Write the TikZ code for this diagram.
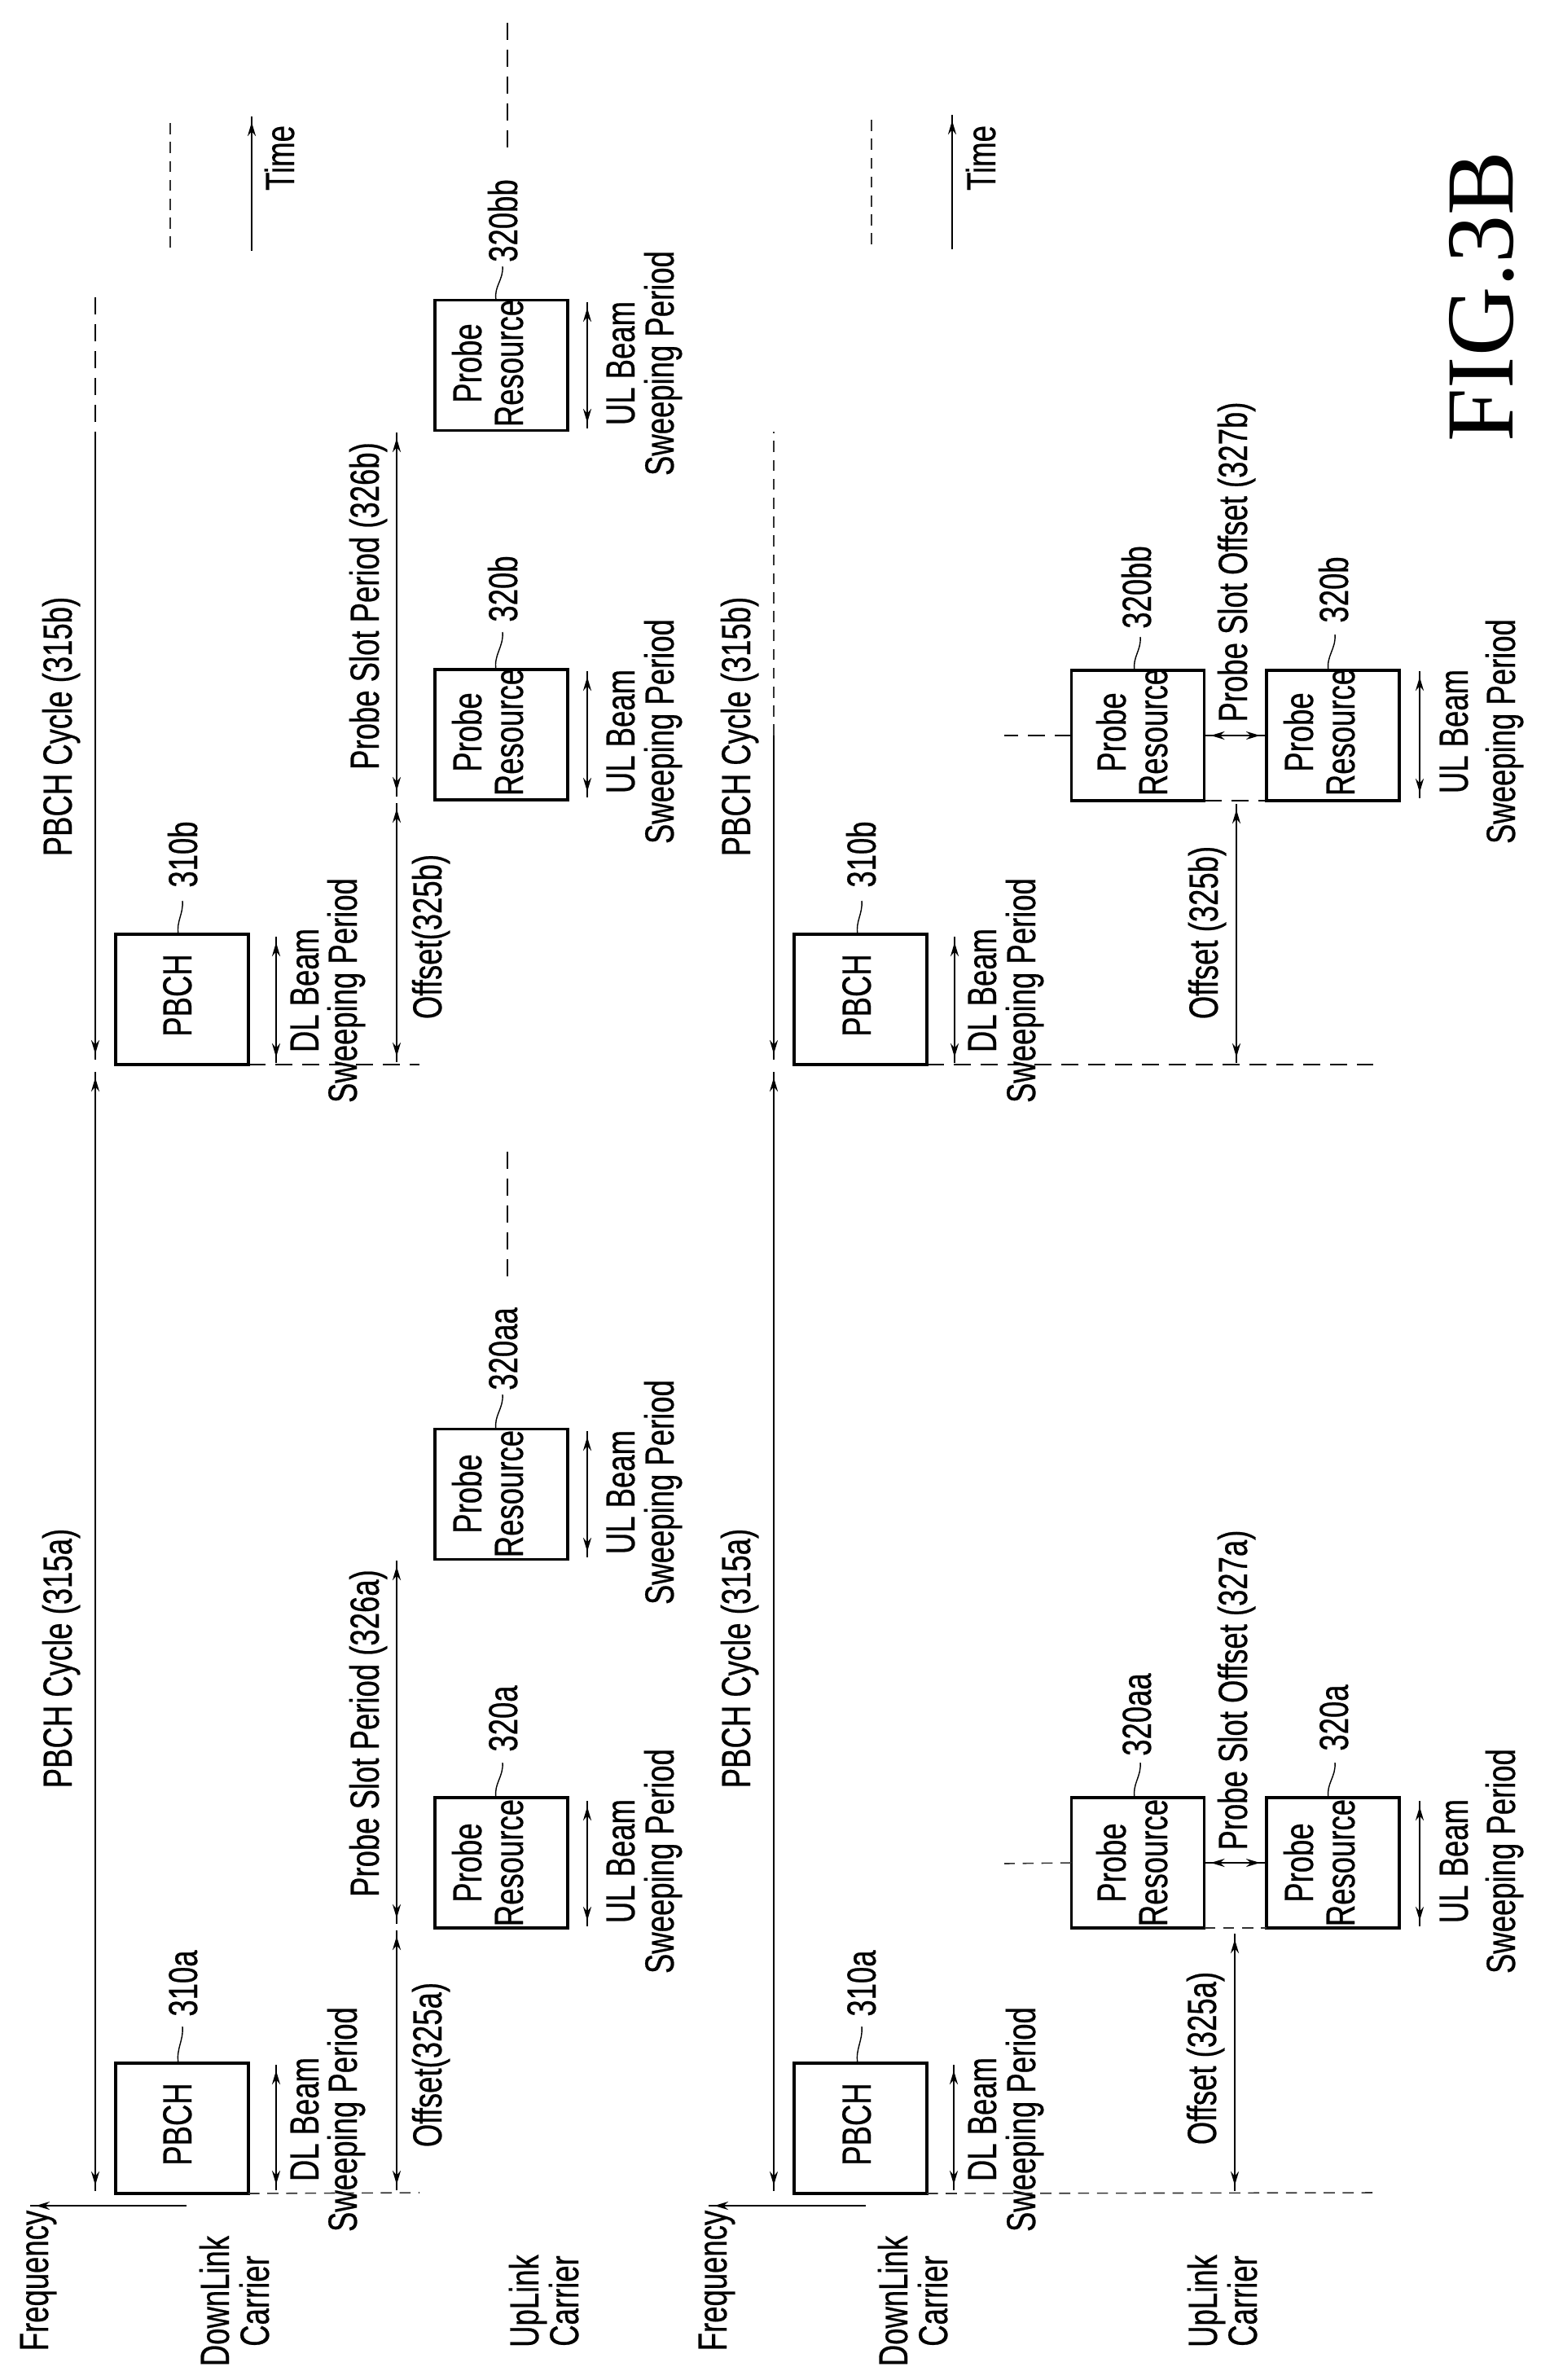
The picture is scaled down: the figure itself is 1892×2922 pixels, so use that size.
\documentclass[tikz,border=0pt]{standalone}
\usepackage{fontspec}
\setmainfont[FakeStretch=0.73,FakeBold=0.5]{Liberation Sans}
\newfontfamily\figfont{Liberation Serif}
\usetikzlibrary{arrows.meta,calc}
\tikzset{
  txt/.style={rotate=90,anchor=base,inner sep=0pt,outer sep=0pt,align=center,font=\fontsize{12.5}{#1}\selectfont},
  txt/.default=12,
  bx/.style={draw,line width=0.85pt,inner sep=0pt,outer sep=0pt,minimum width=40.75pt,minimum height=40pt},
  tip/.style={line width=0.6pt,-{Stealth[length=4.25pt,width=2.5pt]Rectangle[length=2pt,width=0.6pt]}},
  both/.style={line width=0.6pt,{Rectangle[length=2pt,width=0.6pt]Stealth[length=4.25pt,width=2.5pt]}-{Stealth[length=4.25pt,width=2.5pt]Rectangle[length=2pt,width=0.6pt]}},
  dotd/.style={line width=0.4pt,black!80,dash pattern=on 3.4pt off 2.4pt},
  longd/.style={line width=0.65pt,dash pattern=on 5.25pt off 3pt},
  lead/.style={line width=0.35pt}
}
% dimension line between two named free ends
\newcommand{\seg}[6]{\coordinate (#1-s) at (#3,#4);\coordinate (#1-e) at (#5,#6);\draw[#2] (#1-s) -- (#1-e);}
% leader from a point on a box top to the foot of its reference number
\newcommand{\ldr}[5]{\coordinate (#1-s) at (#2,#3);\coordinate (#1-e) at (#4,#5);\draw[lead] (#1-s) to[out=100,in=-85] (#1-e);}
\newcommand{\pb}[3]{\node[bx] (#1) at (#2,#3) {};}
\begin{document}
\begin{tikzpicture}[x=0.25pt,y=-0.25pt]
\useasboundingbox (0,0) rectangle (1892,2922);
%%% ---------- boxes, upper panel (left column)
\pb{ab}{223.5}{2613}\pb{bb}{223.5}{1227}
\pb{pa}{615.5}{2287}\pb{paa}{615.5}{1834.5}\pb{pb}{615.5}{902}\pb{pbb}{615.5}{448.5}
%%% ---------- boxes, lower panel (right column)
\pb{cb}{1056.5}{2613}\pb{db}{1056.5}{1227}
\pb{qaa}{1397}{2287}\pb{qa}{1636.5}{2287}
\pb{qbb}{1397}{903}\pb{qb}{1636.5}{903}
%%% ---------- box texts
\node[txt] (tpa) at (235,2608) {PBCH};
\node[txt] (tpb) at (235,1222) {PBCH};
\node[txt] (tqa) at (1069,2608) {PBCH};
\node[txt] (tqb) at (1069,1222) {PBCH};
\node[txt=12.75] (r1) at (642,2287) {Probe\\Resource};
\node[txt=12.75] (r2) at (642,1834) {Probe\\Resource};
\node[txt=12.75] (r3) at (642,899) {Probe\\Resource};
\node[txt=12.75] (r4) at (642,446) {Probe\\Resource};
\node[txt=12.75] (r5) at (1433,2287) {Probe\\Resource};
\node[txt=12.75] (r6) at (1663,2287) {Probe\\Resource};
\node[txt=12.75] (r7) at (1433,899) {Probe\\Resource};
\node[txt=12.75] (r8) at (1663,899) {Probe\\Resource};
%%% ---------- labels
\node[txt] (f1) at (59,2800) {Frequency};
\node[txt] (f2) at (892,2800) {Frequency};
\node[txt=12.25] (dl1) at (330,2825) {DownLink\\Carrier};
\node[txt=12.25] (ul1) at (710,2825) {UpLink\\Carrier};
\node[txt=12.25] (dl2) at (1163,2825) {DownLink\\Carrier};
\node[txt=12.25] (ul2) at (1543,2825) {UpLink\\Carrier};
\node[txt] (t1) at (361,194) {Time};
\node[txt] (t2) at (1222,194) {Time};
\node[txt] (n1) at (242,2435) {310a};
\node[txt] (n2) at (242,1049) {310b};
\node[txt] (n3) at (1075,2435) {310a};
\node[txt] (n4) at (1075,1049) {310b};
\node[txt=11.75] (d1) at (438,2602) {DL Beam\\Sweeping Period};
\node[txt=11.75] (d2) at (438,1216) {DL Beam\\Sweeping Period};
\node[txt] (d3) at (1271,2602) {DL Beam\\Sweeping Period};
\node[txt] (d4) at (1271,1216) {DL Beam\\Sweeping Period};
\node[txt] (o1) at (542,2535) {Offset(325a)};
\node[txt] (o2) at (542,1150) {Offset(325b)};
\node[txt] (o3) at (1493,2527) {Offset (325a)};
\node[txt] (o4) at (1495,1145) {Offset (325b)};
\node[txt] (s1) at (465,2128) {Probe Slot Period (326a)};
\node[txt] (s2) at (465,744) {Probe Slot Period (326b)};
\node[txt] (c1) at (88,2036) {PBCH Cycle (315a)};
\node[txt] (c2) at (88,892) {PBCH Cycle (315b)};
\node[txt] (c3) at (921,2036) {PBCH Cycle (315a)};
\node[txt] (c4) at (921,892) {PBCH Cycle (315b)};
\node[txt] (m1) at (635,2110) {320a};
\node[txt] (m2) at (635,1656) {320aa};
\node[txt] (m3) at (635,723) {320b};
\node[txt] (m4) at (635,271) {320bb};
\node[txt] (m5) at (1413,2105) {320aa};
\node[txt] (m6) at (1655,2109) {320a};
\node[txt] (m7) at (1413,721) {320bb};
\node[txt] (m8) at (1655,724) {320b};
\node[txt] (u1) at (827,2285) {UL Beam\\Sweeping Period};
\node[txt] (u2) at (827,1832) {UL Beam\\Sweeping Period};
\node[txt] (u3) at (827,898) {UL Beam\\Sweeping Period};
\node[txt] (u4) at (827,446) {UL Beam\\Sweeping Period};
\node[txt=14.5] (u5) at (1860,2285) {UL Beam\\Sweeping Period};
\node[txt=14.5] (u6) at (1860,898) {UL Beam\\Sweeping Period};
\node[txt] (so1) at (1531,2075) {Probe Slot Offset (327a)};
\node[txt] (so2) at (1531,690) {Probe Slot Offset (327b)};
\node[rotate=90,inner sep=0pt,font=\figfont\fontsize{29.5}{30}\selectfont] (fig) at (1819,364) {FIG.3B};
%%% ---------- axes
\seg{fa1}{tip}{229}{2708}{36}{2708}
\seg{fa2}{tip}{1063}{2708}{869}{2708}
\seg{ta1}{tip}{309}{308}{309}{142}
\seg{ta2}{tip}{1169}{306}{1169}{140}
\seg{dt1}{dotd}{209}{304}{209}{145}
\seg{dt2}{dotd}{1070}{300}{1070}{145}
%%% ---------- cycles
\seg{cy1}{both}{117}{1315}{117}{2691}
\seg{cy2}{tip}{117}{530}{117}{1302}
\seg{cy3}{longd}{117}{518}{117}{355}
\seg{cy4}{both}{950}{1315}{950}{2691}
\seg{cy5}{tip}{950}{903}{950}{1302}
\seg{cy6}{dotd}{950}{903}{950}{530}
%%% ---------- periods, upper panel
\seg{of1}{both}{487}{2369}{487}{2690}
\seg{sl1}{both}{487}{1915}{487}{2363}
\seg{of2}{both}{487}{985}{487}{1305}
\seg{sl2}{both}{487}{530}{487}{979}
\seg{dla}{both}{339}{2534}{339}{2690}
\seg{dlb}{both}{339}{1149}{339}{1306}
\seg{ula}{both}{721}{2210}{721}{2366}
\seg{ulaa}{both}{721}{1756}{721}{1913}
\seg{ulb}{both}{721}{823}{721}{980}
\seg{ulbb}{both}{721}{370}{721}{527}
%%% ---------- periods, lower panel
\seg{of3}{both}{1516}{2373}{1516}{2691}
\seg{of4}{both}{1518}{986}{1518}{1306}
\seg{dlc}{both}{1171}{2534}{1171}{2690}
\seg{dld}{both}{1172}{1149}{1172}{1306}
\seg{ulc}{both}{1743}{2210}{1743}{2366}
\seg{uld}{both}{1743}{823}{1743}{981}
\draw[both] (qaa.east) -- (qa.west);
\draw[both] (qbb.east) -- (qb.west);
%%% ---------- dashed guides
\coordinate (g1) at (515,2692);\draw[dotd] (ab.south east) -- (g1);
\coordinate (g2) at (515,1307);\draw[longd] (bb.south east) -- (g2);
\coordinate (g3) at (1685,2692);\draw[dotd] (cb.south east) -- (g3);
\coordinate (g4) at (1686,1307);\draw[longd] (db.south east) -- (g4);
\draw[dotd] (qaa.south east) -- (qa.south west);
\draw[longd] (qbb.south east) -- (qb.south west);
\coordinate (g5) at (1233,2288);\draw[dotd] (qaa.west) -- (g5);
\coordinate (g6) at (1233,903);\draw[longd] (qbb.west) -- (g6);
\seg{g7}{longd}{623}{181}{623}{20}
\seg{g8}{longd}{623}{1567}{623}{1406}
%%% ---------- leaders
\ldr{l1}{219}{2533}{224}{2488}
\ldr{l2}{219}{1147}{224}{1106}
\ldr{l3}{1053}{2533}{1058}{2488}
\ldr{l4}{1053}{1147}{1058}{1106}
\ldr{l5}{609}{2207}{617}{2164}
\ldr{l6}{609}{1755}{617}{1712}
\ldr{l7}{609}{822}{617}{776}
\ldr{l8}{609}{368}{617}{327}
\ldr{l9}{1393}{2207}{1400}{2164}
\ldr{l10}{1631}{2207}{1639}{2164}
\ldr{l11}{1393}{823}{1400}{782}
\ldr{l12}{1631}{823}{1639}{779}
\end{tikzpicture}
\end{document}
